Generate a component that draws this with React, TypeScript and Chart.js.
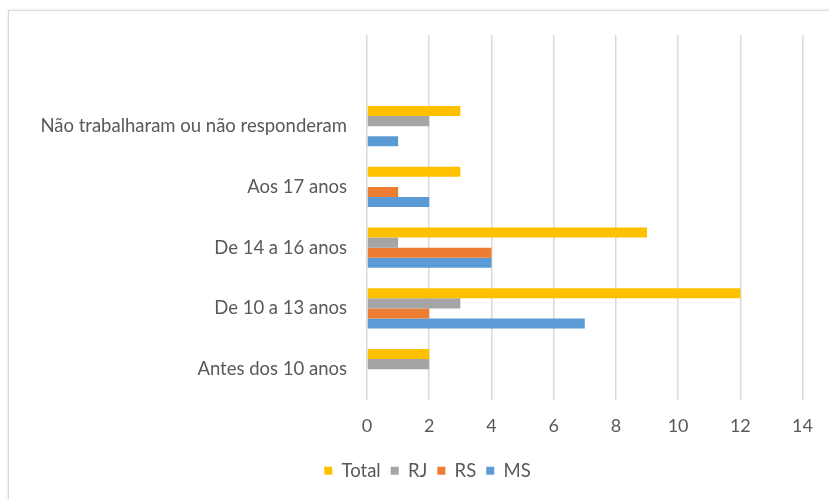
import React, { useEffect, useRef } from 'react';
import { Chart, registerables } from 'chart.js';

Chart.register(...registerables);

const categories = ['', 'Não trabalharam ou não responderam', 'Aos 17 anos', 'De 14 a 16 anos', 'De 10 a 13 anos', 'Antes dos 10 anos'];
const totalValues = [null, 3, 3, 9, 12, 2];
const rjValues = [null, 2, 0, 1, 3, 2];
const rsValues = [null, 0, 1, 4, 2, 0];
const msValues = [null, 1, 2, 4, 7, 0];
const seriesNames = ['Total', 'RJ', 'RS', 'MS'];
const seriesColors = ['#FFC000', '#A5A5A5', '#ED7D31', '#5B9BD5'];
const xMin = 0;
const xMax = 14;
const xStep = 2;

const FONT = 'Lato, "Open Sans", sans-serif';

const legendShift = {
  id: 'legendShift',
  afterLayout(chart: any) {
    const l = chart.legend;
    if (l) {
      l.left += 26;
      l.right += 26;
    }
  },
};

export default function App() {
  const ref = useRef<HTMLCanvasElement | null>(null);

  useEffect(() => {
    document.body.style.margin = '0';
    document.body.style.overflow = 'hidden';
    const canvas = ref.current;
    if (!canvas) return;
    const values = [totalValues, rjValues, rsValues, msValues];
    const chart = new Chart(canvas, {
      type: 'bar',
      data: {
        labels: categories,
        datasets: seriesNames.map((name, i) => ({
          label: name,
          data: values[i] as any,
          backgroundColor: seriesColors[i],
          borderWidth: 0,
          categoryPercentage: 0.66,
          barPercentage: 1,
        })),
      },
      plugins: [legendShift],
      options: {
        indexAxis: 'y',
        animation: false,
        responsive: false,
        maintainAspectRatio: false,
        layout: { padding: { top: 35, right: 26, bottom: 9, left: 0 } },
        plugins: {
          tooltip: { enabled: false },
          legend: {
            position: 'bottom',
            labels: {
              boxWidth: 8,
              boxHeight: 8,
              padding: 10,
              color: '#595959',
              font: { family: FONT, size: 18.5 },
            },
          },
        },
        scales: {
          x: {
            min: xMin,
            max: xMax,
            ticks: {
              stepSize: xStep,
              color: '#595959',
              padding: 16,
              font: { family: FONT, size: 18 },
            },
            grid: { color: '#d9d9d9', lineWidth: 1.5, drawTicks: false },
            border: { display: false },
            afterFit: (scale: any) => {
              scale.height = 52;
            },
          },
          y: {
            ticks: {
              color: '#595959',
              padding: 20,
              font: { family: FONT, size: 18.5 },
            },
            grid: { display: false, drawTicks: false },
            border: { display: false },
            afterFit: (scale: any) => {
              scale.width = 367;
            },
          },
        },
      },
    });
    return () => chart.destroy();
  }, []);

  return (
    <div style={{ position: 'relative', width: 829, height: 499, overflow: 'hidden', background: '#fff' }}>
      <div
        style={{
          position: 'absolute',
          left: 8,
          top: 10,
          width: 900,
          height: 600,
          border: '1px solid #d9d9d9',
          boxShadow: '0 0 3px rgba(0,0,0,0.12)',
        }}
      />
      <canvas ref={ref} width={829} height={499} style={{ position: 'absolute', left: 0, top: 0, display: 'block' }} />
    </div>
  );
}
